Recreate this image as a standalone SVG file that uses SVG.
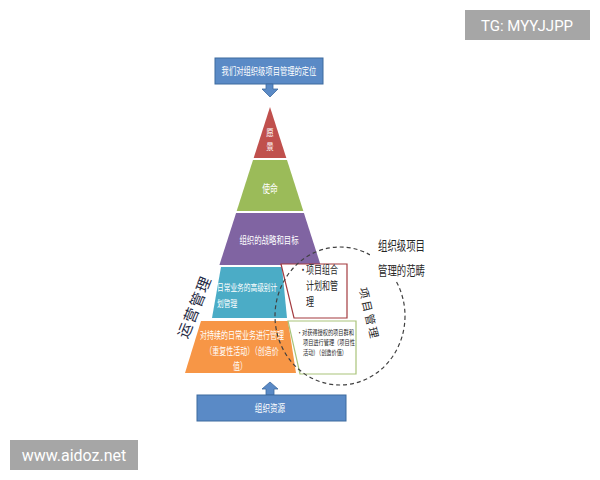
<svg xmlns="http://www.w3.org/2000/svg" width="600" height="480" viewBox="0 0 600 480">
<style>
.cn{font-family:"Noto Sans CJK SC","Noto Sans",sans-serif}
.w{fill:#ffffff}
.k{fill:#262626}
.blue{fill:#5a8ac6;stroke:#3d6a9e;stroke-width:1}
.tag{fill:#a6a6a6}
.tagt{font-family:Roboto,"Liberation Sans",sans-serif;fill:#ffffff}
</style>
<rect width="600" height="480" fill="#ffffff"/>
<g id="top-box">
<rect class="blue" x="215" y="58" width="108" height="26"/>
<text class="cn w" font-size="7.3" text-anchor="middle" transform="translate(269,75) scale(1,1.4)">我们对组织级项目管理的定位</text>
</g>
<g id="tier-vision">
<polygon points="270,107 286.3,158 253.7,158" fill="#c0504d"/>
<text class="cn w" font-size="7.5" text-anchor="middle" transform="translate(270,136) scale(1,1.15)">愿</text>
<text class="cn w" font-size="7.5" text-anchor="middle" transform="translate(270,150) scale(1,1.15)">景</text>
</g>
<g id="tier-mission">
<polygon points="253,160 287,160 303.3,211 236.7,211" fill="#9bbb59"/>
<text class="cn w" font-size="7.8" text-anchor="middle" transform="translate(270,193) scale(1,1.4)">使命</text>
</g>
<g id="tier-strategy">
<polygon points="236.1,213 303.9,213 320.6,265 219.4,265" fill="#8064a2"/>
<text class="cn w" font-size="7.4" text-anchor="middle" transform="translate(269,244) scale(1,1.4)">组织的战略和目标</text>
</g>
<g id="tier-plan">
<polygon points="221,267 282,267 287,318 212,318" fill="#4bacc6"/>
<text class="cn w" font-size="6.7" transform="translate(217,291) scale(1,1.4)">日常业务的高级别计</text>
<text class="cn w" font-size="6.7" transform="translate(217,307) scale(1,1.4)">划管理</text>
</g>
<g id="tier-ops">
<polygon points="201,321 288,321 296,373 185,373" fill="#f79646"/>
<text class="cn w" font-size="7" text-anchor="middle" transform="translate(242,339) scale(1,1.4)">对持续的日常业务进行管理</text>
<text class="cn w" font-size="7" text-anchor="middle" transform="translate(242,355) scale(1,1.4)">（重复性活动）（创造价</text>
<text class="cn w" font-size="7" text-anchor="middle" transform="translate(240,370) scale(1,1.4)">值）</text>
</g>
<g id="box-portfolio">
<polygon points="281,264 347,264 347,318 294,318" fill="#ffffff" stroke="#a33b3f" stroke-width="1.2"/>
<text class="cn k" font-size="8" transform="translate(0,274) scale(1,1.4)"><tspan x="299">•</tspan><tspan x="306">项目组合</tspan></text>
<text class="cn k" font-size="8" transform="translate(306,290) scale(1,1.4)">计划和管</text>
<text class="cn k" font-size="8" transform="translate(306,306) scale(1,1.4)">理</text>
</g>
<g id="box-programs">
<polygon points="288,321 356,321 356,374 300,374" fill="#ffffff" stroke="#a9c47a" stroke-width="1.2"/>
<text class="cn k" font-size="5.2" transform="translate(0,335) scale(1,1.35)"><tspan x="297">•</tspan><tspan x="302">对获得授权的项目群和</tspan></text>
<text class="cn k" font-size="5.2" transform="translate(303,345) scale(1,1.35)">项目进行管理（项目性</text>
<text class="cn k" font-size="5.2" transform="translate(303,355) scale(1,1.35)">活动）（创造价值）</text>
</g>
<g id="connectors">
<polygon points="266,84 273,84 273,89 278,89 270,97 262,89 266,89" fill="#5a8ac6" stroke="#3d6a9e" stroke-width="0.8"/>
<polygon points="270,382 278,389 274,389 274,395 266,395 266,389 262,389" fill="#5a8ac6" stroke="#3d6a9e" stroke-width="0.8"/>
<ellipse cx="340" cy="316" rx="65" ry="69" fill="none" stroke="#404040" stroke-width="1.2" stroke-dasharray="4,3"/>
</g>
<g id="scope-label">
<rect x="370" y="234" width="62" height="46" fill="#ffffff"/>
<text class="cn k" font-size="9.4" transform="translate(378,250) scale(1,1.35)">组织级项目</text>
<text class="cn k" font-size="9.4" transform="translate(378,275) scale(1,1.35)">管理的范畴</text>
</g>
<g id="label-pm">
<text class="cn k" font-size="11" letter-spacing="2.5" text-anchor="middle" transform="translate(369,314) rotate(77)" dy="4">项目管理</text>
</g>
<g id="label-ops">
<text class="cn" font-size="15" fill="#1f2a44" letter-spacing="1.5" text-anchor="middle" transform="translate(195,307) rotate(-68)" dy="5">运营管理</text>
</g>
<g id="bottom-box">
<rect class="blue" x="197" y="395" width="149" height="26"/>
<text class="cn w" font-size="7.6" text-anchor="middle" transform="translate(270,412) scale(1,1.4)">组织资源</text>
</g>
<g id="tag-tg">
<rect class="tag" x="465" y="10" width="125" height="30"/>
<text class="tagt" font-size="15" text-anchor="middle" x="527" y="31">TG: MYYJJPP</text>
</g>
<g id="tag-www">
<rect class="tag" x="10" y="440" width="128" height="30"/>
<text class="tagt" font-size="16" text-anchor="middle" x="74" y="461">www.aidoz.net</text>
</g>
</svg>
